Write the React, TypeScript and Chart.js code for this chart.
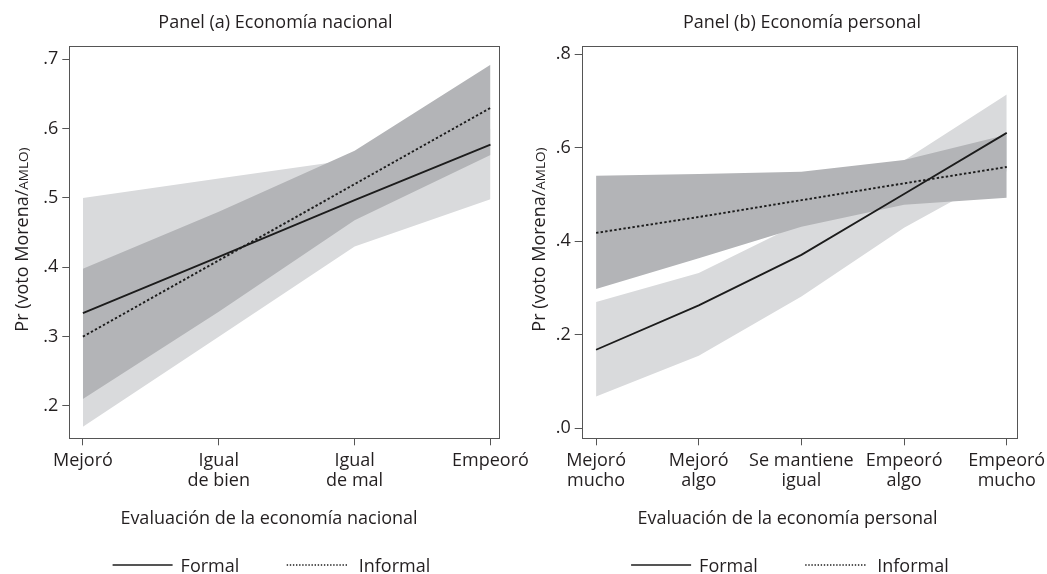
import React, { useEffect, useRef } from "react";
import { Chart, registerables } from "chart.js";

Chart.register(...registerables);

// ---------- data ----------
const seriesNames = ["Formal", "Informal"];

// Panel (a) Economía nacional
const catsA = [["Mejoró"], ["Igual", "de bien"], ["Igual", "de mal"], ["Empeoró"]];
const yTicksA = [0.2, 0.3, 0.4, 0.5, 0.6, 0.7];
const formalA = [0.334, 0.415, 0.497, 0.577];
const informalA = [0.3, 0.41, 0.52, 0.63];
const formalLoA = [0.17, 0.3, 0.43, 0.498];
const formalHiA = [0.5, 0.528, 0.556, 0.6];
const informalLoA = [0.21, 0.336, 0.468, 0.562];
const informalHiA = [0.398, 0.48, 0.568, 0.692];

// Panel (b) Economía personal
const catsB = [
  ["Mejoró", "mucho"],
  ["Mejoró", "algo"],
  ["Se mantiene", "igual"],
  ["Empeoró", "algo"],
  ["Empeoró", "mucho"],
];
const yTicksB = [0, 0.2, 0.4, 0.6, 0.8];
const formalB = [0.168, 0.263, 0.371, 0.501, 0.632];
const informalB = [0.418, 0.452, 0.488, 0.524, 0.559];
const formalLoB = [0.068, 0.155, 0.282, 0.429, 0.55];
const formalHiB = [0.27, 0.332, 0.44, 0.573, 0.714];
const informalLoB = [0.298, 0.364, 0.431, 0.478, 0.493];
const informalHiB = [0.54, 0.544, 0.549, 0.574, 0.628];

// ---------- styles ----------
const FONT = '"Open Sans", "Noto Sans", sans-serif';
const TEXT = "#231f20";
const AXIS = "#555555";
const LIGHT = "#d9dadc";
const DARK = "#b3b4b7";
const LINE = "#1c1c1c";

const toPts = (arr: number[]) => arr.map((y, i) => ({ x: i, y }));

const panelText = {
  id: "panelText",
  afterDraw(chart: any, _args: any, o: any) {
    const ctx = chart.ctx as CanvasRenderingContext2D;
    const a = chart.chartArea;
    ctx.save();
    // frame
    ctx.strokeStyle = AXIS;
    ctx.lineWidth = 1;
    ctx.setLineDash([]);
    ctx.strokeRect(
      Math.round(a.left) + 0.5,
      Math.round(a.top) + 0.5,
      Math.round(a.right - a.left),
      Math.round(a.bottom - a.top)
    );
    ctx.fillStyle = TEXT;
    ctx.textBaseline = "alphabetic";
    ctx.textAlign = "center";
    ctx.font = `18px ${FONT}`;
    ctx.fillText(o.title, o.titleX, 28.3);
    ctx.fillText(o.xTitle, o.xTitleX, 524);

    // legend
    const ly = 565;
    const lx = o.xTitleX - 156.4;
    ctx.strokeStyle = LINE;
    ctx.lineWidth = 1.7;
    ctx.beginPath();
    ctx.moveTo(lx, ly);
    ctx.lineTo(lx + 60, ly);
    ctx.stroke();
    ctx.lineWidth = 1.6;
    ctx.setLineDash([1.4, 1.7]);
    ctx.beginPath();
    ctx.moveTo(o.xTitleX + 17.7, ly);
    ctx.lineTo(o.xTitleX + 17.7 + 62, ly);
    ctx.stroke();
    ctx.setLineDash([]);
    ctx.textAlign = "left";
    ctx.font = `18px ${FONT}`;
    ctx.fillText(seriesNames[0], lx + 68, 571.5);
    ctx.fillText(seriesNames[1], o.xTitleX + 89.7, 571.5);

    // y title (rotated), with small-caps AMLO
    ctx.translate(o.yTitleX, 331.7);
    ctx.rotate(-Math.PI / 2);
    ctx.textAlign = "left";
    const main = "Pr (voto Morena/";
    ctx.font = `18px ${FONT}`;
    ctx.fillText(main, 0, 0);
    const w = ctx.measureText(main).width;
    ctx.font = `13.5px ${FONT}`;
    ctx.fillText("AMLO)", w, 0);
    ctx.restore();
  },
};

function makeConfig(p: any) {
  const band = (data: number[], color: string, fill: any, order: number) => ({
    type: "line",
    data: toPts(data),
    borderWidth: 0,
    pointRadius: 0,
    backgroundColor: color,
    borderColor: color,
    fill,
    order,
    tension: 0,
  });
  return {
    type: "line",
    data: {
      datasets: [
        {
          label: seriesNames[0],
          data: toPts(p.formal),
          borderColor: LINE,
          borderWidth: 1.8,
          pointRadius: 0,
          fill: false,
          order: 0,
          tension: 0,
        },
        {
          label: seriesNames[1],
          data: toPts(p.informal),
          borderColor: LINE,
          borderWidth: 1.9,
          borderDash: [2.4, 2.2],
          pointRadius: 0,
          fill: false,
          order: 0,
          tension: 0,
        },
        band(p.formalLo, LIGHT, false, 10),
        band(p.formalHi, LIGHT, "-1", 10),
        band(p.informalLo, DARK, false, 5),
        band(p.informalHi, DARK, "-1", 5),
      ],
    },
    options: {
      responsive: false,
      animation: false,
      devicePixelRatio: 1,
      layout: { padding: { left: 0, right: p.padRight, top: 46, bottom: 0 } },
      plugins: {
        legend: { display: false },
        title: { display: false },
        tooltip: { enabled: false },
        panelText: {
          title: p.title,
          titleX: p.titleX,
          xTitle: p.xTitle,
          xTitleX: p.xTitleX,
          yTitleX: p.yTitleX,
        },
      },
      scales: {
        x: {
          type: "linear",
          min: p.xMin,
          max: p.xMax,
          border: { display: false },
          grid: {
            display: true,
            drawOnChartArea: false,
            drawTicks: true,
            tickLength: 7,
            color: AXIS,
            lineWidth: 1,
          },
          afterBuildTicks: (s: any) => {
            s.ticks = p.cats.map((_: any, i: number) => ({ value: i }));
          },
          afterFit: (s: any) => {
            s.height = 574 - 438.3;
            s.paddingLeft = 0;
            s.paddingRight = 0;
          },
          ticks: {
            autoSkip: false,
            maxRotation: 0,
            minRotation: 0,
            padding: 6,
            color: TEXT,
            font: { family: FONT, size: 18, lineHeight: 1.09 },
            callback: (v: number) => p.cats[v],
          },
        },
        y: {
          type: "linear",
          min: p.yMin,
          max: p.yMax,
          border: { display: false },
          grid: {
            display: true,
            drawOnChartArea: false,
            drawTicks: true,
            tickLength: 7,
            color: AXIS,
            lineWidth: 1,
          },
          afterBuildTicks: (s: any) => {
            s.ticks = p.yTicks.map((v: number) => ({ value: v }));
          },
          afterFit: (s: any) => {
            s.width = p.yWidth;
            s.paddingTop = 0;
            s.paddingBottom = 0;
          },
          ticks: {
            padding: 4,
            color: TEXT,
            font: { family: FONT, size: 18 },
            callback: (v: number) => v.toFixed(1).replace(/^0/, ""),
          },
        },
      },
    },
    plugins: [panelText],
  };
}

const panelA = {
  cats: catsA,
  yTicks: yTicksA,
  formal: formalA,
  informal: informalA,
  formalLo: formalLoA,
  formalHi: formalHiA,
  informalLo: informalLoA,
  informalHi: informalHiA,
  xMin: -0.1,
  xMax: 3.065,
  yMin: 0.1534,
  yMax: 0.7192,
  yWidth: 69.3,
  padRight: 545 - 499.3,
  title: "Panel (a) Economía nacional",
  titleX: 275.5,
  xTitle: "Evaluación de la economía nacional",
  xTitleX: 269,
  yTitleX: 28,
};

const panelB = {
  cats: catsB,
  yTicks: yTicksB,
  formal: formalB,
  informal: informalB,
  formalLo: formalLoB,
  formalHi: formalHiB,
  informalLo: informalLoB,
  informalHi: informalHiB,
  xMin: -0.14,
  xMax: 4.097,
  yMin: -0.0214,
  yMax: 0.8178,
  yWidth: 58.7,
  padRight: 524 - 1016.7 + 523,
  title: "Panel (b) Economía personal",
  titleX: 279,
  xTitle: "Evaluación de la economía personal",
  xTitleX: 264.5,
  yTitleX: 22,
};

function Panel({ p, left, width }: { p: any; left: number; width: number }) {
  const ref = useRef<HTMLCanvasElement>(null);
  useEffect(() => {
    const chart = new Chart(ref.current as HTMLCanvasElement, makeConfig(p) as any);
    return () => chart.destroy();
  }, []);
  return (
    <canvas
      ref={ref}
      width={width}
      height={574}
      style={{ position: "absolute", left, top: 0, width, height: 574 }}
    />
  );
}

export default function App() {
  return (
    <div
      style={{
        position: "absolute",
        left: 0,
        top: 0,
        width: 1047,
        height: 574,
        background: "#fff",
        overflow: "hidden",
      }}
    >
      <Panel p={panelA} left={0} width={545} />
      <Panel p={panelB} left={523} width={524} />
    </div>
  );
}
